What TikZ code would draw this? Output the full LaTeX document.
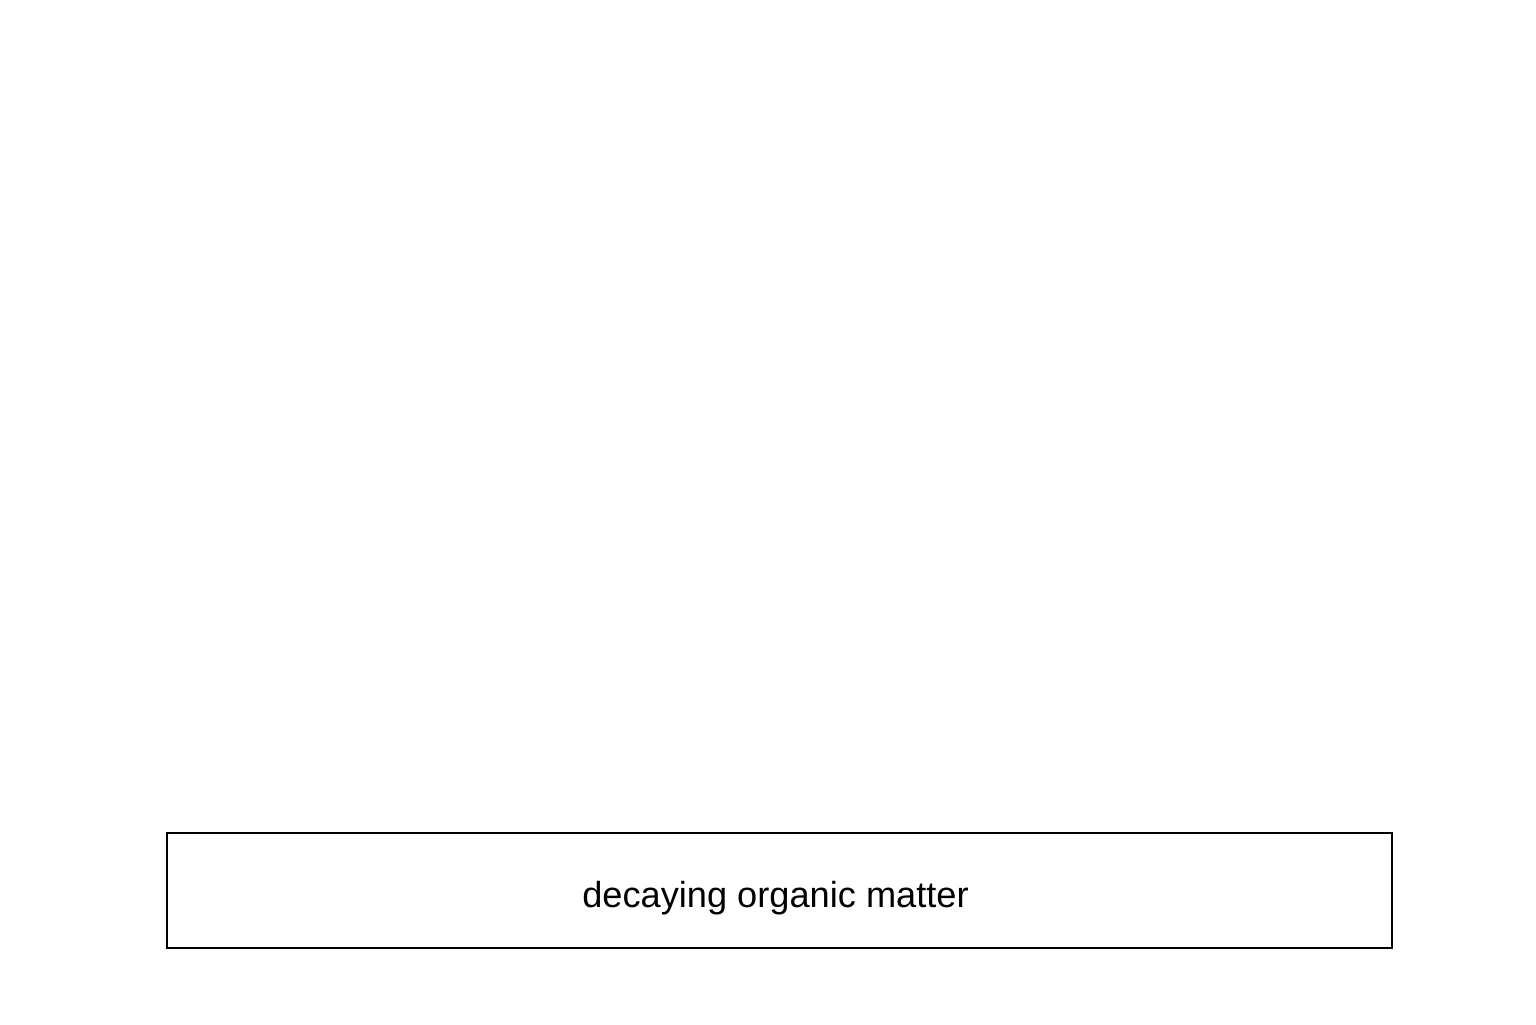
\documentclass[tikz,border=0pt]{standalone}
\usepackage{fontspec}
\setmainfont{Liberation Sans}
\tikzset{matterbox/.style={draw, line width=0.7pt, minimum width=12.25cm, minimum height=1.15cm, inner sep=0pt},
         mattertext/.style={inner sep=0pt, font=\fontsize{10.3}{12}\selectfont}}
\begin{document}
\begin{tikzpicture}
                % Page frame
                \useasboundingbox (0.000000,0.000000) rectangle (15.360000,10.240000);%
                
                % Drawing box of decaying organic matter
                \node [matterbox] (matter) at (7.795000,1.335000) {};%
                \node [mattertext] (mattername) at ([xshift=-0.040000cm,yshift=-0.080000cm]matter.center) {decaying organic matter};%
            \end{tikzpicture}
\end{document}
